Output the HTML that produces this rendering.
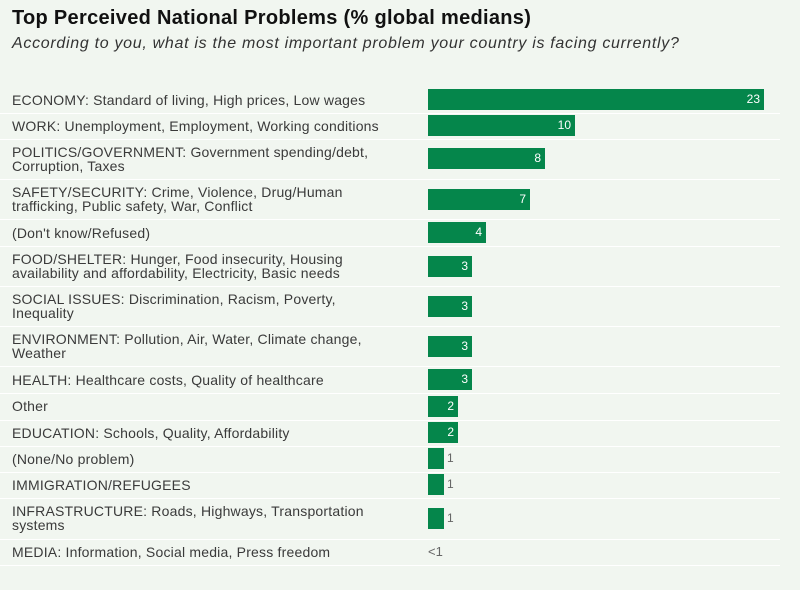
<!DOCTYPE html>
<html><head><style>
body{margin:0;width:800px;height:590px;background:#f1f6f0;font-family:"Liberation Sans",sans-serif;position:relative;overflow:hidden}
.t{position:absolute;left:12px;top:7px;font-size:20px;letter-spacing:0.3px;font-weight:bold;color:#111}
.s{position:absolute;left:12px;top:35px;font-size:16px;letter-spacing:0.7px;font-style:italic;color:#333}
.l{position:absolute;left:12px;font-size:14px;letter-spacing:0.2px;line-height:14px;color:#3a3a3a}
.b{position:absolute;left:428px;height:21px;background:#05864b;color:#fff;font-size:12px;text-align:right;line-height:21px;box-sizing:border-box;padding-right:4px}
.v{position:absolute;font-size:12px;color:#666;line-height:21px}
.h{position:absolute;left:0;width:780px;height:1px;background:#fff}
</style></head><body>
<div class="t">Top Perceived National Problems (% global medians)</div>
<div class="s">According to you, what is the most important problem your country is facing currently?</div>

<div class="l" style="top:93px">ECONOMY: Standard of living, High prices, Low wages</div>
<div class="b" style="top:89px;width:336px">23</div><div class="h" style="top:113px"></div>
<div class="l" style="top:119px">WORK: Unemployment, Employment, Working conditions</div>
<div class="b" style="top:115px;width:147px">10</div><div class="h" style="top:139px"></div>
<div class="l" style="top:145px">POLITICS/GOVERNMENT: Government spending/debt,<br>Corruption, Taxes</div>
<div class="b" style="top:148px;width:117px">8</div><div class="h" style="top:179px"></div>
<div class="l" style="top:185px">SAFETY/SECURITY: Crime, Violence, Drug/Human<br>trafficking, Public safety, War, Conflict</div>
<div class="b" style="top:189px;width:102px">7</div><div class="h" style="top:219px"></div>
<div class="l" style="top:226px">(Don't know/Refused)</div>
<div class="b" style="top:222px;width:58px">4</div><div class="h" style="top:246px"></div>
<div class="l" style="top:252px">FOOD/SHELTER: Hunger, Food insecurity, Housing<br>availability and affordability, Electricity, Basic needs</div>
<div class="b" style="top:256px;width:44px">3</div><div class="h" style="top:286px"></div>
<div class="l" style="top:292px">SOCIAL ISSUES: Discrimination, Racism, Poverty,<br>Inequality</div>
<div class="b" style="top:296px;width:44px">3</div><div class="h" style="top:326px"></div>
<div class="l" style="top:332px">ENVIRONMENT: Pollution, Air, Water, Climate change,<br>Weather</div>
<div class="b" style="top:336px;width:44px">3</div><div class="h" style="top:366px"></div>
<div class="l" style="top:373px">HEALTH: Healthcare costs, Quality of healthcare</div>
<div class="b" style="top:369px;width:44px">3</div><div class="h" style="top:393px"></div>
<div class="l" style="top:399px">Other</div>
<div class="b" style="top:396px;width:30px">2</div><div class="h" style="top:420px"></div>
<div class="l" style="top:426px">EDUCATION: Schools, Quality, Affordability</div>
<div class="b" style="top:422px;width:30px">2</div><div class="h" style="top:446px"></div>
<div class="l" style="top:452px">(None/No problem)</div>
<div class="b" style="top:448px;width:16px"></div><div class="v" style="top:448px;left:447px">1</div><div class="h" style="top:472px"></div>
<div class="l" style="top:478px">IMMIGRATION/REFUGEES</div>
<div class="b" style="top:474px;width:16px"></div><div class="v" style="top:474px;left:447px">1</div><div class="h" style="top:498px"></div>
<div class="l" style="top:504px">INFRASTRUCTURE: Roads, Highways, Transportation<br>systems</div>
<div class="b" style="top:508px;width:16px"></div><div class="v" style="top:508px;left:447px">1</div><div class="h" style="top:539px"></div>
<div class="l" style="top:545px">MEDIA: Information, Social media, Press freedom</div>
<div class="v" style="top:541px;left:428px;font-size:13px">&lt;1</div><div class="h" style="top:565px"></div>
</body></html>
